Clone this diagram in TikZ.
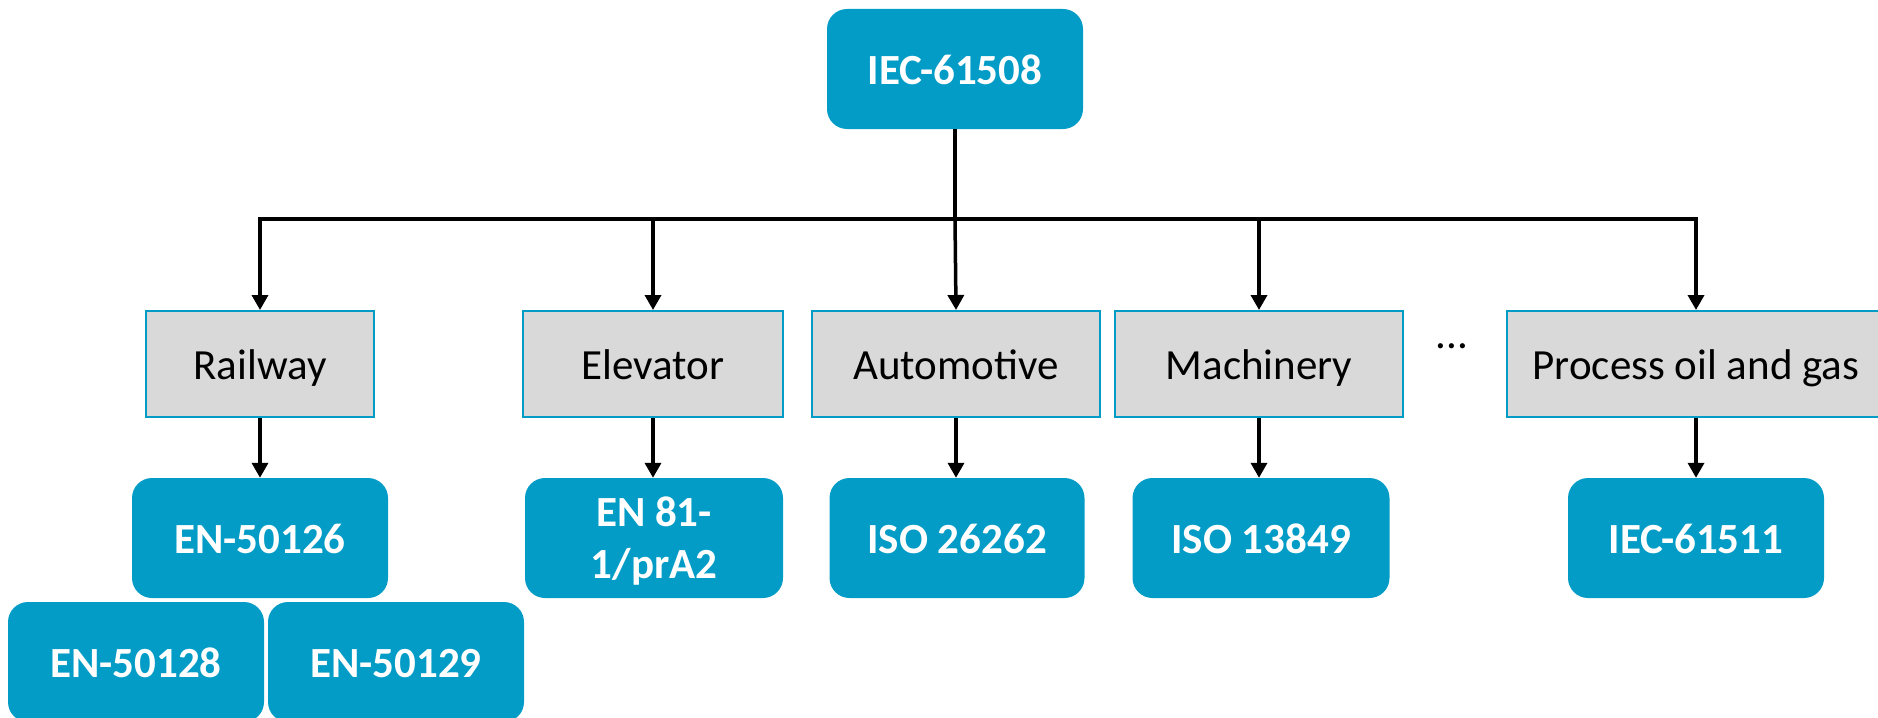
\documentclass[tikz,border=0pt]{standalone}
\usepackage{fontspec}
\setmainfont{Carlito}
\usetikzlibrary{arrows.meta}
\definecolor{stdblue}{RGB}{3,156,198}
\definecolor{sectorgray}{RGB}{217,217,217}
\tikzset{
  stdbox/.style={draw=none, fill=stdblue, rounded corners=20pt, text=white,
    font=\fontsize{43}{52}\selectfont\bfseries, align=center,
    minimum width=256pt, minimum height=120pt, inner sep=0pt},
  oneline/.style={text height=31pt, text depth=0pt},
  sector/.style={draw=stdblue, line width=2pt, fill=sectorgray, text=black,
    font=\fontsize{43}{52}\selectfont, minimum height=106pt, inner sep=0pt,
    oneline},
  trunk/.style={line width=3.5pt, black},
  arr/.style={line width=3.5pt, black, -{Triangle[width=16pt,length=15pt]}}
}
\begin{document}
\begin{tikzpicture}[x=1pt,y=-1pt]
\useasboundingbox (0,0) rectangle (1878,717);

% root standard
\node[stdbox, oneline] (root) at (955,69) {IEC-61508};

% application sectors
\node[sector, minimum width=228pt] (rail) at (260,364) {Railway};
\node[sector, minimum width=260pt] (elev) at (653,364) {Elevator};
\node[sector, minimum width=288pt] (auto) at (956,364) {Automotive};
\node[sector, minimum width=288pt] (mach) at (1259,364) {Machinery};
\node[sector, minimum width=378pt] (proc) at (1696,364) {Process oil and gas};
\node[font=\fontsize{43}{52}\selectfont, inner sep=0pt, oneline] (dots) at (1452,333) {...};

% sector standards
\node[stdbox, oneline] (en50126) at (260,538) {EN-50126};
\node[stdbox, minimum width=258pt, text depth=0pt] (en81) at (654,538) {EN 81-\\1/prA2};
\node[stdbox, oneline, minimum width=255pt] (iso26262) at (957,538) {ISO 26262};
\node[stdbox, oneline, minimum width=257pt] (iso13849) at (1261,538) {ISO 13849};
\node[stdbox, oneline] (iec61511) at (1696,538) {IEC-61511};
\node[stdbox, oneline] (en50128) at (136,662) {EN-50128};
\node[stdbox, oneline] (en50129) at (396,662) {EN-50129};

% distribution bus
\coordinate (bus) at (955,219);
\draw[trunk] (root.south) -- (bus);
\draw[arr] (bus) -| (rail.north);
\draw[arr] (bus) -| (elev.north);
\draw[arr] (bus) -- (auto.north);
\draw[arr] (bus) -| (mach.north);
\draw[arr] (bus) -| (proc.north);

% sector to standard
\draw[arr] (rail.south) -- (en50126.north);
\draw[arr] (elev.south) -- (elev.south |- en81.north);
\draw[arr] (auto.south) -- (auto.south |- iso26262.north);
\draw[arr] (mach.south) -- (mach.south |- iso13849.north);
\draw[arr] (proc.south) -- (iec61511.north);
\end{tikzpicture}
\end{document}
